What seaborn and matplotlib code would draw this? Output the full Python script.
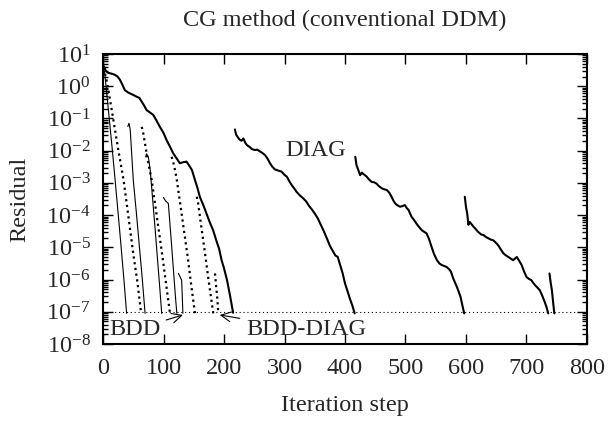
import numpy as np
import pandas as pd
import matplotlib
matplotlib.use("Agg")
import matplotlib.pyplot as plt
import matplotlib.ticker as mticker
import seaborn as sns

# convergence histories, residuals given as log10 exponents, one list per restart
diag_iters = [
    [0, 2, 4, 8, 12, 16, 20, 24, 28, 32, 36, 42, 50, 56, 60, 64, 68, 72, 78, 83, 88,
     94, 100, 105, 110, 116, 122, 127, 132, 138, 142, 147, 152, 156, 160, 166, 171,
     176, 182, 188, 192, 196, 200, 205, 210, 215],
    [218, 220, 223, 226, 229, 232, 235, 238, 242, 246, 251, 255, 260, 264, 268, 272,
     276, 280, 284, 290, 295, 300, 304, 308, 312, 316, 320, 326, 331, 336, 340, 345,
     350, 355, 360, 365, 370, 375, 380, 384, 388, 392, 396, 400, 404, 408, 412, 416],
    [417, 419, 422, 425, 428, 430, 433, 436, 440, 444, 448, 452, 456, 461, 465, 469,
     473, 477, 480, 483, 487, 491, 495, 499, 502, 505, 510, 514, 518, 522, 527, 531,
     535, 539, 543, 547, 552, 556, 560, 564, 568, 572, 575, 579, 582, 585, 588, 591,
     594, 597],
    [598, 600, 602, 604, 606, 609, 612, 615, 620, 625, 629, 633, 637, 641, 645, 649,
     653, 657, 662, 666, 670, 674, 678, 681, 684, 688, 692, 696, 700, 704, 708, 711,
     714, 718, 722, 726, 730, 733, 736],
    [738, 740, 742, 744, 746],
]
diag_exps = [
    [0.45, 0.6, 0.5, 0.42, 0.4, 0.38, 0.35, 0.3, 0.2, 0.05, -0.12, -0.2, -0.27, -0.33,
     -0.36, -0.48, -0.6, -0.74, -0.82, -0.89, -1.05, -1.26, -1.45, -1.67, -1.85, -2.08,
     -2.25, -2.39, -2.36, -2.34, -2.45, -2.6, -2.91, -3.15, -3.43, -3.7, -3.95, -4.2,
     -4.47, -4.83, -5.05, -5.4, -5.65, -6.02, -6.5, -7.03],
    [-1.34, -1.5, -1.59, -1.66, -1.69, -1.62, -1.75, -1.83, -1.88, -1.95, -1.98, -1.97,
     -2.03, -2.08, -2.14, -2.25, -2.39, -2.5, -2.58, -2.62, -2.65, -2.75, -2.81, -2.95,
     -3.07, -3.17, -3.28, -3.4, -3.48, -3.58, -3.7, -3.82, -3.95, -4.1, -4.3, -4.5,
     -4.72, -4.95, -5.12, -5.25, -5.3, -5.55, -5.8, -6.12, -6.35, -6.59, -6.8, -7.05],
    [-2.19, -2.45, -2.6, -2.76, -2.68, -2.72, -2.76, -2.81, -2.9, -2.97, -2.98, -3.02,
     -3.1, -3.17, -3.2, -3.22, -3.3, -3.43, -3.55, -3.64, -3.7, -3.74, -3.72, -3.69,
     -3.78, -3.84, -4.05, -4.15, -4.26, -4.36, -4.47, -4.52, -4.57, -4.75, -4.98, -5.2,
     -5.4, -5.5, -5.55, -5.58, -5.61, -5.68, -5.75, -5.97, -6.1, -6.23, -6.38, -6.54,
     -6.8, -7.05],
    [-3.43, -3.75, -3.95, -4.3, -4.21, -4.28, -4.35, -4.41, -4.52, -4.6, -4.62, -4.68,
     -4.72, -4.76, -4.78, -4.85, -4.93, -5.05, -5.19, -5.25, -5.3, -5.35, -5.4, -5.35,
     -5.3, -5.42, -5.55, -5.75, -5.92, -5.98, -6.02, -6.1, -6.17, -6.25, -6.33, -6.5,
     -6.69, -6.85, -7.05],
    [-5.81, -6.1, -6.33, -6.7, -7.05],
]

bdd_iters = [
    [0, 1, 2, 5, 10, 15, 20, 25, 30, 35, 39],
    [41, 43, 45, 50, 55, 60, 65, 69.5],
    [70.5, 72, 75, 78, 82, 86, 90, 94, 97],
    [99.7, 103, 108, 112, 116, 120, 122],
    [124.5, 127, 130, 131, 132],
]
bdd_exps = [
    [0.5, 0.7, 0.55, 0.0, -0.95, -1.9, -2.91, -3.95, -5.0, -6.1, -7.05],
    [-1.25, -1.15, -1.35, -2.91, -3.9, -4.95, -6.0, -7.05],
    [-2.19, -2.1, -2.2, -2.6, -3.5, -4.4, -5.35, -6.3, -7.05],
    [-3.45, -3.55, -3.64, -4.6, -5.6, -6.6, -7.05],
    [-5.81, -5.9, -6.02, -6.5, -7.05],
]

bdd_diag_iters = [
    [0, 2, 7, 15, 25, 34, 42, 50, 57, 63],
    [64, 66, 70, 75, 80.5, 86, 92, 98, 104, 110.7],
    [113.5, 116, 119, 122, 128, 134, 140, 146, 152],
    [154.9, 157, 162, 168, 174, 182.3],
    [185.1, 187, 189, 190.6],
]
bdd_diag_exps = [
    [0.45, 0.5, 0.09, -0.8, -1.95, -2.91, -4.05, -5.2, -6.1, -7.05],
    [-1.26, -1.4, -1.85, -2.4, -2.91, -3.65, -4.45, -5.25, -6.1, -7.05],
    [-2.19, -2.35, -2.6, -2.91, -3.7, -4.5, -5.3, -6.2, -7.05],
    [-3.43, -3.6, -4.3, -5.1, -5.95, -7.05],
    [-5.81, -6.2, -6.6, -7.05],
]

tolerance = 1e-7


def to_frame(iters, exps, name):
    rows = []
    for seg, (xs, es) in enumerate(zip(iters, exps)):
        for x, e in zip(xs, es):
            rows.append((name, seg, x, 10.0 ** e))
    return pd.DataFrame(rows, columns=["method", "seg", "iteration", "residual"])


df = pd.concat([
    to_frame(diag_iters, diag_exps, "DIAG"),
    to_frame(bdd_iters, bdd_exps, "BDD"),
    to_frame(bdd_diag_iters, bdd_diag_exps, "BDD-DIAG"),
])

sns.set_theme(style="ticks")
plt.rcParams["font.family"] = ["Liberation Serif", "DejaVu Serif"]
plt.rcParams["mathtext.fontset"] = "custom"
plt.rcParams["mathtext.rm"] = "Liberation Serif"
plt.rcParams["mathtext.it"] = "Liberation Serif:italic"
plt.rcParams["axes.unicode_minus"] = False

fs = 17.5

fig, ax = plt.subplots(figsize=(6.11, 4.23), dpi=100)
fig.subplots_adjust(left=0.1686, right=0.9607, bottom=0.1868, top=0.8723)
ax.set_yscale("log")

styles = {
    "DIAG": dict(linewidth=1.5, linestyle="-"),
    "BDD": dict(linewidth=0.8, linestyle="-"),
    "BDD-DIAG": dict(linewidth=1.6, linestyle=(0, (1, 1.6))),
}
for name, kw in styles.items():
    sns.lineplot(data=df[df["method"] == name], x="iteration", y="residual",
                 units="seg", estimator=None, sort=False, color="black", ax=ax, **kw)

ax.axhline(tolerance, color="black", linewidth=0.8, linestyle=(0, (1, 2.5)))

ax.text(352, 10 ** -2.0, "DIAG", fontsize=fs, ha="center", va="center")
arrow = dict(arrowstyle="->", color="black", lw=0.8, shrinkA=2, shrinkB=0)
ax.annotate("BDD", xy=(132, 10 ** -7.1), xytext=(52, 10 ** -7.55), fontsize=fs,
            ha="center", va="center", arrowprops=arrow)
ax.annotate("BDD-DIAG", xy=(193, 10 ** -7.1), xytext=(236, 10 ** -7.55), fontsize=fs,
            ha="left", va="center", arrowprops=arrow)

ax.set_xlim(0, 800)
ax.set_ylim(1e-8, 1e1)
ax.xaxis.set_major_locator(mticker.MultipleLocator(100))
ax.yaxis.set_major_locator(mticker.LogLocator(base=10, numticks=20))
ax.yaxis.set_minor_locator(mticker.LogLocator(base=10, subs=np.arange(2, 10), numticks=20))
ax.yaxis.set_minor_formatter(mticker.NullFormatter())

ax.tick_params(which="both", direction="in", top=True, right=True, labelsize=fs,
               color="black", width=1)
ax.tick_params(which="major", length=7)
ax.tick_params(which="minor", length=3.5)
ax.tick_params(axis="x", pad=10)
ax.tick_params(axis="y", pad=9)
for s in ax.spines.values():
    s.set_linewidth(1.5)
    s.set_color("black")

ax.set_title("CG method (conventional DDM)", fontsize=fs, pad=20)
ax.set_xlabel("Iteration step", fontsize=fs)
ax.set_ylabel("Residual", fontsize=fs)
ax.xaxis.set_label_coords(0.5, -0.175)
ax.yaxis.set_label_coords(-0.15, 0.5)

fig.savefig("out.png", dpi=100)
